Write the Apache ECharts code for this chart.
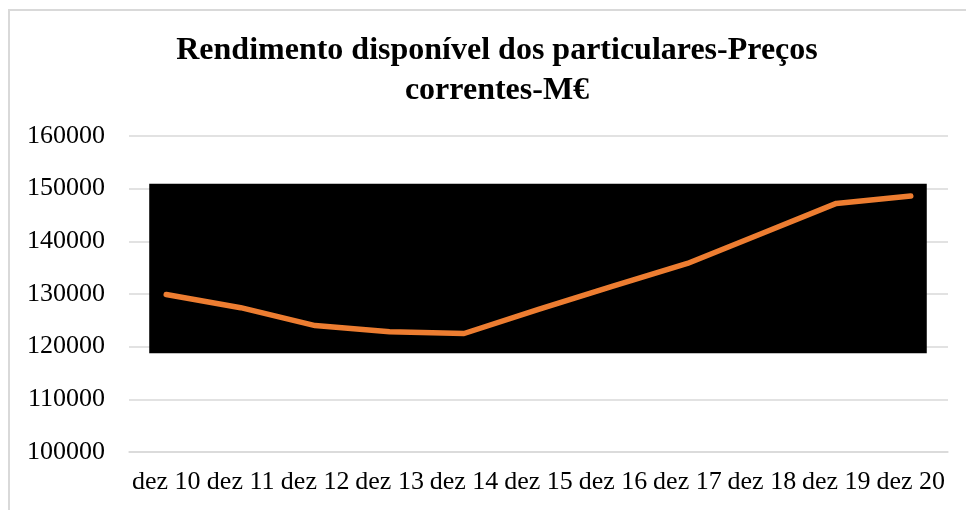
<!DOCTYPE html>
<html>
<head>
<meta charset="utf-8">
<script src="https://cdn.jsdelivr.net/npm/echarts@6/dist/echarts.min.js"></script>
<style>
  html, body { margin: 0; padding: 0; background: #fff; }
  #main { width: 966px; height: 510px; }
</style>
</head>
<body>
<div id="main"></div>
<script>
// dados
const categorias = ["dez 10", "dez 11", "dez 12", "dez 13", "dez 14", "dez 15",
  "dez 16", "dez 17", "dez 18", "dez 19", "dez 20"];
const rendimento = [129900, 127400, 124000, 122850, 122500, 127100,
  131500, 135800, 141500, 147200, 148600];
const yTicks = [100000, 110000, 120000, 130000, 140000, 150000, 160000];

// caixa preta atrás da linha (valores do eixo y)
const caixaTopo = 150950;
const caixaBase = 118750;

var chartDom = document.getElementById("main");
var myChart = echarts.init(chartDom);
const serif = "'Liberation Serif', 'Times New Roman', serif";

const option = {
  animation: false,
  title: {
    text: "Rendimento disponível dos particulares-Preços\ncorrentes-M€",
    left: 492,
    top: 26,
    textAlign: "center",
    textStyle: {
      fontFamily: serif,
      fontWeight: "bold",
      fontSize: 32,
      lineHeight: 40,
      color: "#000"
    }
  },
  grid: { left: 129, right: 18, top: 136, bottom: 58 },
  xAxis: {
    type: "category",
    data: categorias,
    boundaryGap: true,
    axisLine: { show: true, lineStyle: { color: "#d9d9d9", width: 1.5 } },
    axisTick: { show: false },
    axisLabel: { fontFamily: serif, fontSize: 26, color: "#000", margin: 17, interval: 0 }
  },
  yAxis: {
    type: "value",
    min: yTicks[0],
    max: yTicks[yTicks.length - 1],
    interval: 10000,
    axisLine: { show: false },
    axisTick: { show: false },
    splitLine: { lineStyle: { color: "#d9d9d9", width: 1.5 } },
    axisLabel: {
      fontFamily: serif, fontSize: 26, color: "#000", margin: 24,
      formatter: (v) => String(v)
    }
  },
  series: [
    {
      name: "Rendimento",
      type: "line",
      data: rendimento,
      symbol: "none",
      z: 5,
      lineStyle: { color: "#ED7D31", width: 5.5, cap: "round", join: "round" }
    }
  ]
};

myChart.setOption(option);

// retângulo preto e moldura
const p0 = myChart.convertToPixel({ gridIndex: 0 }, [0, caixaTopo]);
const p1 = myChart.convertToPixel({ gridIndex: 0 }, [categorias.length - 1, caixaBase]);
myChart.setOption({
  graphic: [
    {
      type: "rect",
      z: 1,
      shape: { x: p0[0] - 17, y: p0[1], width: p1[0] - p0[0] + 33, height: p1[1] - p0[1] },
      style: { fill: "#000" }
    },
    {
      type: "polyline",
      z: 0,
      shape: { points: [[9, 510], [9, 10], [966, 10]] },
      style: { stroke: "#d9d9d9", lineWidth: 2, fill: null }
    }
  ]
});

window.addEventListener("resize", () => myChart.resize());
</script>
</body>
</html>
